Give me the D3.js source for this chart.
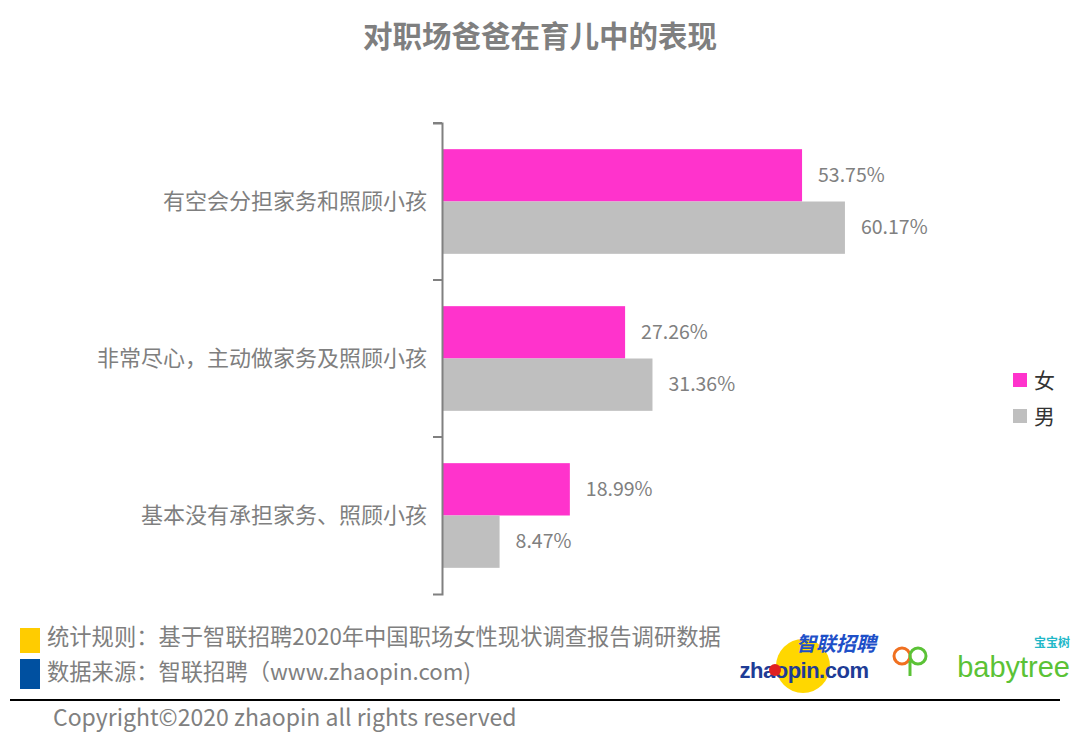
<!DOCTYPE html>
<html><head><meta charset="utf-8">
<script src="https://cdn.jsdelivr.net/npm/d3@7"></script>
<style>
body{margin:0;background:#fff;}
svg{display:block;font-family:"Noto Sans CJK SC","Noto Sans",sans-serif;}
</style></head>
<body>
<svg id="c" width="1080" height="755"></svg>
<script>
const title = "对职场爸爸在育儿中的表现";
const categories = ["有空会分担家务和照顾小孩","非常尽心，主动做家务及照顾小孩","基本没有承担家务、照顾小孩"];
const seriesNames = ["女","男"];
const femaleValues = [53.75, 27.26, 18.99];
const maleValues = [60.17, 31.36, 8.47];
const seriesColors = ["#FF33CC","#BFBFBF"];
const footnotes = ["统计规则：基于智联招聘2020年中国职场女性现状调查报告调研数据","数据来源：智联招聘（www.zhaopin.com)"];
const copyright = "Copyright©2020 zhaopin all rights reserved";

const svg = d3.select("#c");
const x = d3.scaleLinear().domain([0,70]).range([443, 910.6]);
const y = d3.scaleBand().domain(categories).range([123, 594]).paddingInner(0).paddingOuter(0);
const inner = d3.scaleBand().domain(seriesNames).range([0, y.bandwidth()]).paddingInner(0).paddingOuter(0.5);

// title
svg.append("text").attr("x",540).attr("y",47).attr("text-anchor","middle")
  .attr("font-size",29.5).attr("font-weight","bold").attr("fill","#7F7F7F").text(title);

// bars
const data = categories.map((c,i)=>({c, vals:[femaleValues[i], maleValues[i]]}));
data.forEach(d=>{
  d.vals.forEach((v,j)=>{
    const yy = y(d.c)+inner(seriesNames[j]);
    svg.append("rect").attr("x",x(0)).attr("y",yy).attr("width",x(v)-x(0)).attr("height",inner.bandwidth())
      .attr("fill",seriesColors[j]);
    svg.append("text").attr("x",x(v)+16).attr("y",yy+inner.bandwidth()/2).attr("dy","0.35em")
      .attr("font-size",19.5).attr("fill","#808080").text(v.toFixed(2)+"%");
  });
});

// axis
const axis = d3.axisLeft(y).tickSize(9).tickSizeOuter(9).tickFormat("");
const ag = svg.append("g").attr("transform","translate(442,0)").call(axis);
ag.select(".domain").attr("stroke","#808080").attr("stroke-width",2);
ag.selectAll(".tick").remove();
// boundary ticks
const bounds = [123].concat(categories.map(c=>y(c)+y.bandwidth()));
svg.selectAll("line.bt").data(bounds.slice(0,3)).enter().append("line")
  .attr("x1",433).attr("x2",442).attr("y1",d=>d).attr("y2",d=>d)
  .attr("stroke","#808080").attr("stroke-width",2);
// category labels
categories.forEach(c=>{
  svg.append("text").attr("x",427).attr("y",y(c)+y.bandwidth()/2).attr("dy","0.35em")
    .attr("text-anchor","end").attr("font-size",22).attr("fill","#7F7F7F").text(c);
});

// legend
seriesNames.forEach((s,i)=>{
  const ly = 380 + i*36;
  svg.append("rect").attr("x",1013).attr("y",ly-7).attr("width",14).attr("height",14).attr("fill",seriesColors[i]);
  svg.append("text").attr("x",1034).attr("y",ly).attr("dy","0.36em").attr("font-size",21).attr("fill","#333").text(s);
});

// footnotes
const fnColors = ["#FFCC00","#0050A0"];
footnotes.forEach((f,i)=>{
  const cy = 637 + i*35;
  svg.append("rect").attr("x",20).attr("y",i?659:628).attr("width",20).attr("height",i?30:25).attr("fill",fnColors[i]);
  svg.append("text").attr("x",47).attr("y",cy).attr("dy","0.35em").attr("font-size",22.3).attr("fill","#7F7F7F").text(f);
});
svg.append("line").attr("x1",10).attr("x2",1060).attr("y1",700).attr("y2",700).attr("stroke","#000").attr("stroke-width",2);
svg.append("text").attr("x",53).attr("y",718).attr("dy","0.35em").attr("font-size",23).attr("fill","#808080").text(copyright);

// logos
svg.append("circle").attr("cx",803).attr("cy",666).attr("r",27).attr("fill","#FFD700");
svg.append("text").attr("x",836).attr("y",651).attr("text-anchor","middle").attr("font-size",20).attr("font-weight","bold")
  .attr("fill","#1E50C8").attr("font-style","italic").text("智联招聘");
svg.append("text").attr("x",804).attr("y",678).attr("text-anchor","middle").attr("font-size",22)
  .attr("font-family","Liberation Sans").attr("font-weight","bold")
  .attr("fill","#1E3C96").attr("letter-spacing","-0.5").text("zhaopin.com");
svg.append("circle").attr("cx",775).attr("cy",670).attr("r",6).attr("fill","#E02020");
svg.append("text").attr("x",1070).attr("y",647).attr("text-anchor","end").attr("font-size",12).attr("font-weight","bold").attr("fill","#22B8C8").text("宝宝树");
svg.append("text").attr("x",1070).attr("y",677).attr("text-anchor","end").attr("font-size",29)
  .attr("font-family","Liberation Sans").attr("fill","#5BC236").text("babytree");
svg.append("circle").attr("cx",902).attr("cy",656).attr("r",8).attr("fill","none").attr("stroke","#F07020").attr("stroke-width",3);
svg.append("circle").attr("cx",918).attr("cy",656).attr("r",8).attr("fill","none").attr("stroke","#5BC236").attr("stroke-width",3);
svg.append("line").attr("x1",910).attr("x2",910).attr("y1",661).attr("y2",676).attr("stroke","#5BC236").attr("stroke-width",3);
</script>
</body></html>
